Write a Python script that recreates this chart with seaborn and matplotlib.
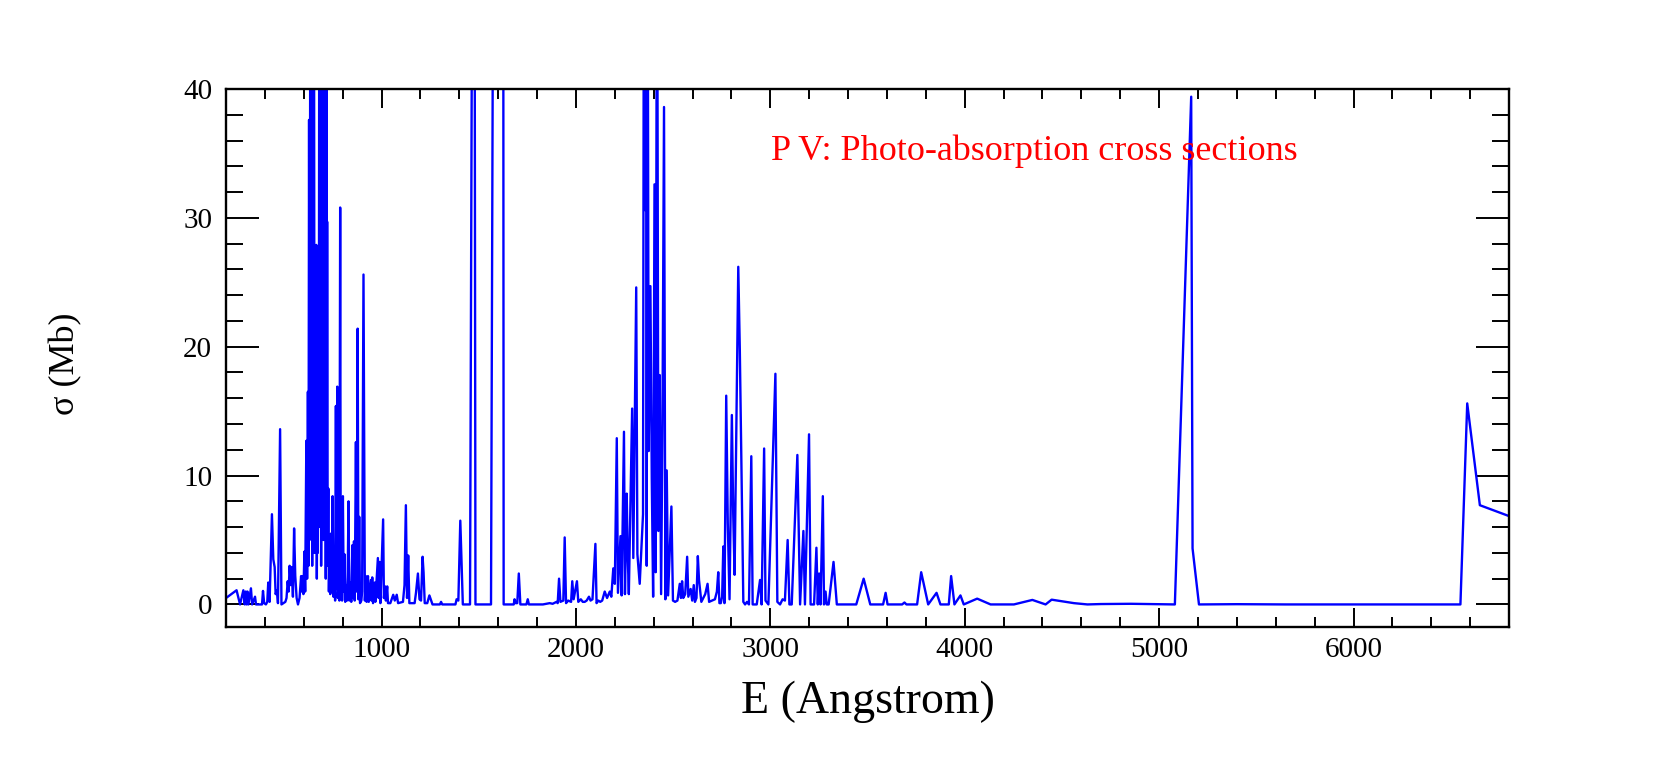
import matplotlib
matplotlib.use("Agg")
import matplotlib.pyplot as plt
from matplotlib.ticker import MultipleLocator
import seaborn as sns
import pandas as pd

# ---- data ----
energy_angstrom = [
    200, 254, 272, 289, 296, 301, 306, 310, 315, 328, 334, 349, 354, 385, 390, 396, 405, 412, 417, 424,
    436, 443, 450, 455, 462, 467, 478, 485, 505, 511, 517, 522, 527, 533, 538, 544, 550, 556, 563, 570,
    578, 586, 590, 594, 598, 603, 607, 613, 617, 621, 624, 627, 630, 634, 637, 640, 643, 646, 649, 652,
    655, 658, 661, 664, 667, 670, 672, 675, 677, 680, 683, 686, 689, 692, 695, 698, 701, 704, 707, 710,
    713, 716, 718, 720, 723, 726, 729, 733, 736, 740, 744, 748, 752, 757, 761, 765, 768, 772, 775, 779,
    783, 787, 790, 794, 797, 801, 805, 809, 813, 818, 822, 826, 830, 834, 840, 844, 850, 854, 858, 862,
    868, 872, 877, 881, 885, 889, 896, 900, 907, 910, 914, 919, 923, 930, 934, 945, 948, 952, 956, 965,
    968, 981, 985, 990, 994, 1008, 1012, 1018, 1022, 1029, 1033, 1045, 1060, 1068, 1078, 1085, 1110, 1118, 1125, 1131,
    1137, 1143, 1170, 1177, 1187, 1195, 1203, 1211, 1216, 1222, 1235, 1246, 1262, 1300, 1306, 1312, 1380, 1386, 1395, 1405,
    1418, 1455, 1475, 1483, 1563, 1580, 1625, 1628, 1680, 1684, 1690, 1698, 1706, 1714, 1745, 1752, 1758, 1830, 1865, 1880,
    1900, 1906, 1913, 1920, 1935, 1942, 1949, 1960, 1975, 1981, 1988, 2005, 2012, 2025, 2035, 2045, 2055, 2067, 2075, 2085,
    2100, 2106, 2115, 2125, 2135, 2148, 2160, 2174, 2182, 2192, 2200, 2210, 2216, 2229, 2235, 2247, 2252, 2261, 2266, 2272,
    2289, 2295, 2310, 2316, 2328, 2345, 2350, 2355, 2360, 2364, 2368, 2374, 2383, 2390, 2397, 2404, 2410, 2417, 2424, 2431,
    2438, 2445, 2453, 2460, 2467, 2474, 2491, 2499, 2510, 2522, 2534, 2540, 2546, 2552, 2562, 2572, 2578, 2590, 2598, 2606,
    2612, 2620, 2627, 2633, 2645, 2655, 2665, 2677, 2685, 2700, 2715, 2725, 2732, 2738, 2745, 2752, 2758, 2764, 2773, 2781,
    2790, 2802, 2809, 2816, 2835, 2843, 2861, 2870, 2880, 2890, 2902, 2909, 2930, 2947, 2955, 2968, 2975, 2990, 3026, 3036,
    3050, 3063, 3075, 3089, 3098, 3110, 3139, 3153, 3170, 3178, 3199, 3207, 3225, 3237, 3244, 3251, 3258, 3270, 3276, 3284,
    3290, 3300, 3325, 3342, 3442, 3480, 3514, 3580, 3593, 3603, 3678, 3690, 3700, 3755, 3776, 3812, 3855, 3875, 3918, 3930,
    3947, 3978, 3995, 4064, 4133, 4253, 4348, 4416, 4447, 4562, 4631, 4700, 4855, 5081, 5165, 5172, 5205, 5400, 5650, 6550,
    6585, 6650, 6810,
]
sigma_mb = [
    0.5, 1.1, 0.0, 1.1, 0.0, 1.0, 0.0, 1.0, 0.0, 1.25, 0.0, 0.6, 0.0, 0.0, 1.05, 0.1, 0.0, 0.2, 1.7, 0.2,
    7.0, 3.5, 2.9, 0.8, 1.1, 0.1, 13.6, 0.0, 0.2, 0.5, 1.8, 1.0, 3.0, 1.5, 2.9, 0.6, 5.9, 2.2, 0.5, 0.0,
    0.5, 2.2, 1.0, 2.2, 0.8, 4.1, 1.0, 12.7, 2.0, 16.5, 3.0, 37.6, 5.0, 60, 8.0, 60, 3.0, 60, 10.0, 60,
    4.0, 18.0, 7.0, 27.9, 2.0, 15.0, 4.0, 21.3, 6.0, 60, 9.0, 60, 3.0, 20.7, 8.0, 60, 5.0, 60, 11.0, 60,
    2.0, 60, 6.0, 29.7, 3.0, 9.0, 1.0, 4.9, 0.8, 5.5, 1.0, 8.4, 0.6, 4.0, 0.3, 15.4, 1.2, 16.9, 0.5, 2.0,
    0.3, 30.8, 0.5, 5.8, 0.3, 8.4, 1.0, 3.9, 0.2, 1.5, 0.3, 2.5, 8.0, 0.3, 1.7, 0.2, 4.6, 0.5, 4.9, 0.3,
    12.6, 1.0, 21.4, 0.4, 6.8, 0.1, 0.3, 1.0, 25.6, 14.5, 0.3, 2.2, 0.2, 2.2, 0.2, 1.9, 0.3, 2.1, 0.1, 1.7,
    0.2, 3.6, 0.5, 3.3, 0.1, 6.6, 0.5, 1.4, 0.3, 1.4, 0.1, 0.1, 0.75, 0.3, 0.75, 0.1, 0.2, 1.5, 7.7, 0.5,
    3.8, 0.1, 0.1, 0.9, 2.4, 0.4, 0.3, 3.7, 2.5, 0.1, 0.1, 0.7, 0.0, 0.0, 0.2, 0.0, 0.0, 0.4, 0.3, 6.5,
    0.0, 0.0, 93.0, 0.0, 0.0, 80.0, 80.0, 0.0, 0.0, 0.4, 0.1, 0.1, 2.4, 0.0, 0.0, 0.4, 0.0, 0.0, 0.1, 0.05,
    0.2, 0.1, 2.0, 0.2, 0.3, 5.2, 0.1, 0.3, 0.2, 1.8, 0.4, 1.8, 0.2, 0.4, 0.2, 0.2, 0.3, 0.6, 0.3, 0.4,
    4.7, 0.1, 0.3, 0.2, 0.3, 1.0, 0.5, 1.0, 0.6, 2.8, 1.6, 12.9, 0.9, 5.3, 0.7, 13.4, 0.8, 8.6, 4.0, 0.8,
    15.2, 3.6, 24.6, 3.9, 1.6, 7.0, 60, 30.6, 60, 3.0, 60, 11.9, 24.7, 9.8, 0.6, 32.6, 2.5, 60, 5.7, 17.8,
    0.8, 14.0, 38.6, 0.4, 10.4, 0.7, 7.6, 0.3, 0.2, 0.3, 1.6, 0.5, 1.8, 0.5, 0.8, 3.7, 0.6, 1.2, 0.3, 1.5,
    0.2, 0.5, 3.75, 1.9, 0.2, 0.5, 0.8, 1.6, 0.2, 0.3, 0.4, 1.0, 2.5, 0.1, 0.1, 0.6, 4.5, 0.1, 16.2, 6.3,
    0.4, 14.7, 7.0, 2.3, 26.2, 19.7, 0.2, 0.0, 0.2, 0.0, 11.5, 0.0, 0.0, 1.9, 0.0, 12.1, 0.3, 0.0, 17.9, 0.2,
    0.0, 0.4, 0.3, 5.0, 0.0, 0.0, 11.6, 0.0, 5.7, 0.0, 13.2, 0.0, 0.0, 4.4, 0.0, 2.4, 0.0, 8.4, 0.0, 1.0,
    0.0, 0.0, 3.3, 0.0, 0.0, 2.0, 0.0, 0.0, 0.9, 0.0, 0.0, 0.15, 0.0, 0.0, 2.5, 0.0, 0.9, 0.0, 0.0, 2.2,
    0.0, 0.7, 0.0, 0.45, 0.0, 0.0, 0.35, 0.0, 0.37, 0.1, 0.0, 0.03, 0.05, 0.0, 39.4, 4.35, 0.0, 0.02, 0.0, 0.0,
    15.6, 7.7, 6.8,
]
title_text = "P V: Photo-absorption cross sections"
x_label = "E (Angstrom)"
y_label = "σ (Mb)"

assert len(energy_angstrom) == len(sigma_mb)

sns.set_style("ticks")
plt.rcParams["font.family"] = ["Liberation Serif", "DejaVu Serif"]
plt.rcParams["text.color"] = "black"
plt.rcParams["axes.labelcolor"] = "black"
plt.rcParams["xtick.color"] = "black"
plt.rcParams["ytick.color"] = "black"

df = pd.DataFrame({"E": energy_angstrom, "sigma": sigma_mb})

fig = plt.figure(figsize=(16.61, 7.61), dpi=100)
ax = fig.add_axes([0.1361, 0.1761, 0.7724, 0.7070])

sns.lineplot(data=df, x="E", y="sigma", ax=ax, color="#0000ff", linewidth=1.7,
             estimator=None, sort=False)

ax.set_xlim(200, 6800)
ax.set_ylim(-1.75, 40)

ax.xaxis.set_major_locator(MultipleLocator(1000))
ax.xaxis.set_minor_locator(MultipleLocator(200))
ax.yaxis.set_major_locator(MultipleLocator(10))
ax.yaxis.set_minor_locator(MultipleLocator(2))

ax.tick_params(which="both", direction="in", top=True, right=True, colors="black",
               labelsize=21, width=1.4)
ax.tick_params(axis="x", which="major", length=13.7, pad=7)
ax.tick_params(axis="x", which="minor", length=7.2)
ax.tick_params(axis="y", which="major", length=23.8, pad=10)
ax.tick_params(axis="y", which="minor", length=12.2)

for sp in ax.spines.values():
    sp.set_linewidth(1.7)
    sp.set_color("black")

ax.set_xlabel(x_label, fontsize=33, color="black")
ax.set_ylabel(y_label, fontsize=26, color="black")
ax.xaxis.set_label_coords(0.5, -0.100)
ax.yaxis.set_label_coords(-0.112, 0.49)

ax.text(0.4248, 0.868, title_text, transform=ax.transAxes, color="#ff0000",
        fontsize=26, ha="left", va="baseline")

fig.savefig("out.png", dpi=100, facecolor="white")
